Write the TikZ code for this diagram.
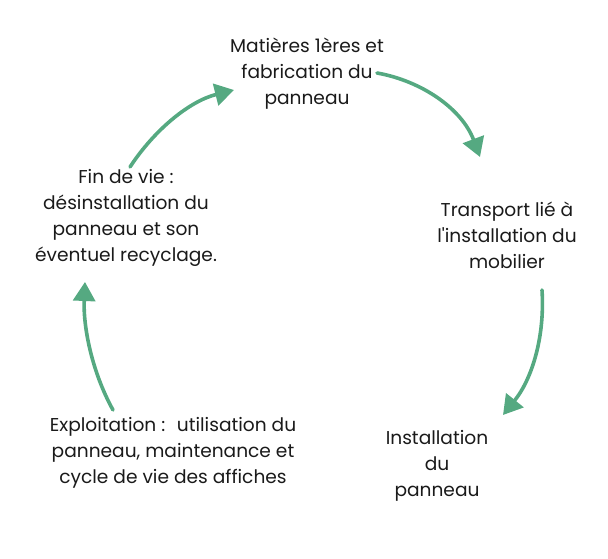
\documentclass[tikz,border=0pt]{standalone}
\usepackage{fontspec}
\setmainfont{Poppins}
\usetikzlibrary{arrows.meta}
\definecolor{cyc}{HTML}{55A981}
\definecolor{txt}{HTML}{1A1A1A}
\tikzset{
  lbl/.style={align=center, text=txt, font=\fontsize{18.6}{26}\selectfont, inner sep=0pt},
  cyca/.style={draw=cyc, line width=3.6pt, line cap=round, -{Triangle[length=19pt,width=22pt]}}
}
\begin{document}
\begin{tikzpicture}[x=1pt,y=1pt]
\useasboundingbox (0,0) rectangle (608,559);
\node[lbl] (mat) at (307,485) {Matières 1ères et\\fabrication du\\panneau};
\node[lbl] (tra) at (507,324) {Transport lié à\\l\textquotesingle installation du\\mobilier};
\node[lbl] (ins) at (437,93) {Installation\\du\\panneau};
\node[lbl] (exp) at (173,106) {Exploitation :~ utilisation du\\panneau, maintenance et\\cycle de vie des affiches};
\node[lbl] (fin) at (126,341) {Fin de vie :\\désinstallation du\\panneau et son\\éventuel recyclage.};
\coordinate (a1s) at (377,486);
\coordinate (a1e) at (480,402);
\coordinate (a2s) at (542,269);
\coordinate (a2e) at (503,144);
\coordinate (a4s) at (113,149);
\coordinate (a4e) at (85,277);
\coordinate (a5s) at (130,392);
\coordinate (a5e) at (234,469);
\draw[cyca] (a1s) .. controls (422,478) and (462,450) .. (a1e);
\draw[cyca] (a2s) .. controls (545,222) and (532,180) .. (a2e);
\draw[cyca] (a4s) .. controls (93,185) and (83,230) .. (a4e);
\draw[cyca] (a5s) .. controls (155,430) and (190,458) .. (a5e);
\end{tikzpicture}
\end{document}
